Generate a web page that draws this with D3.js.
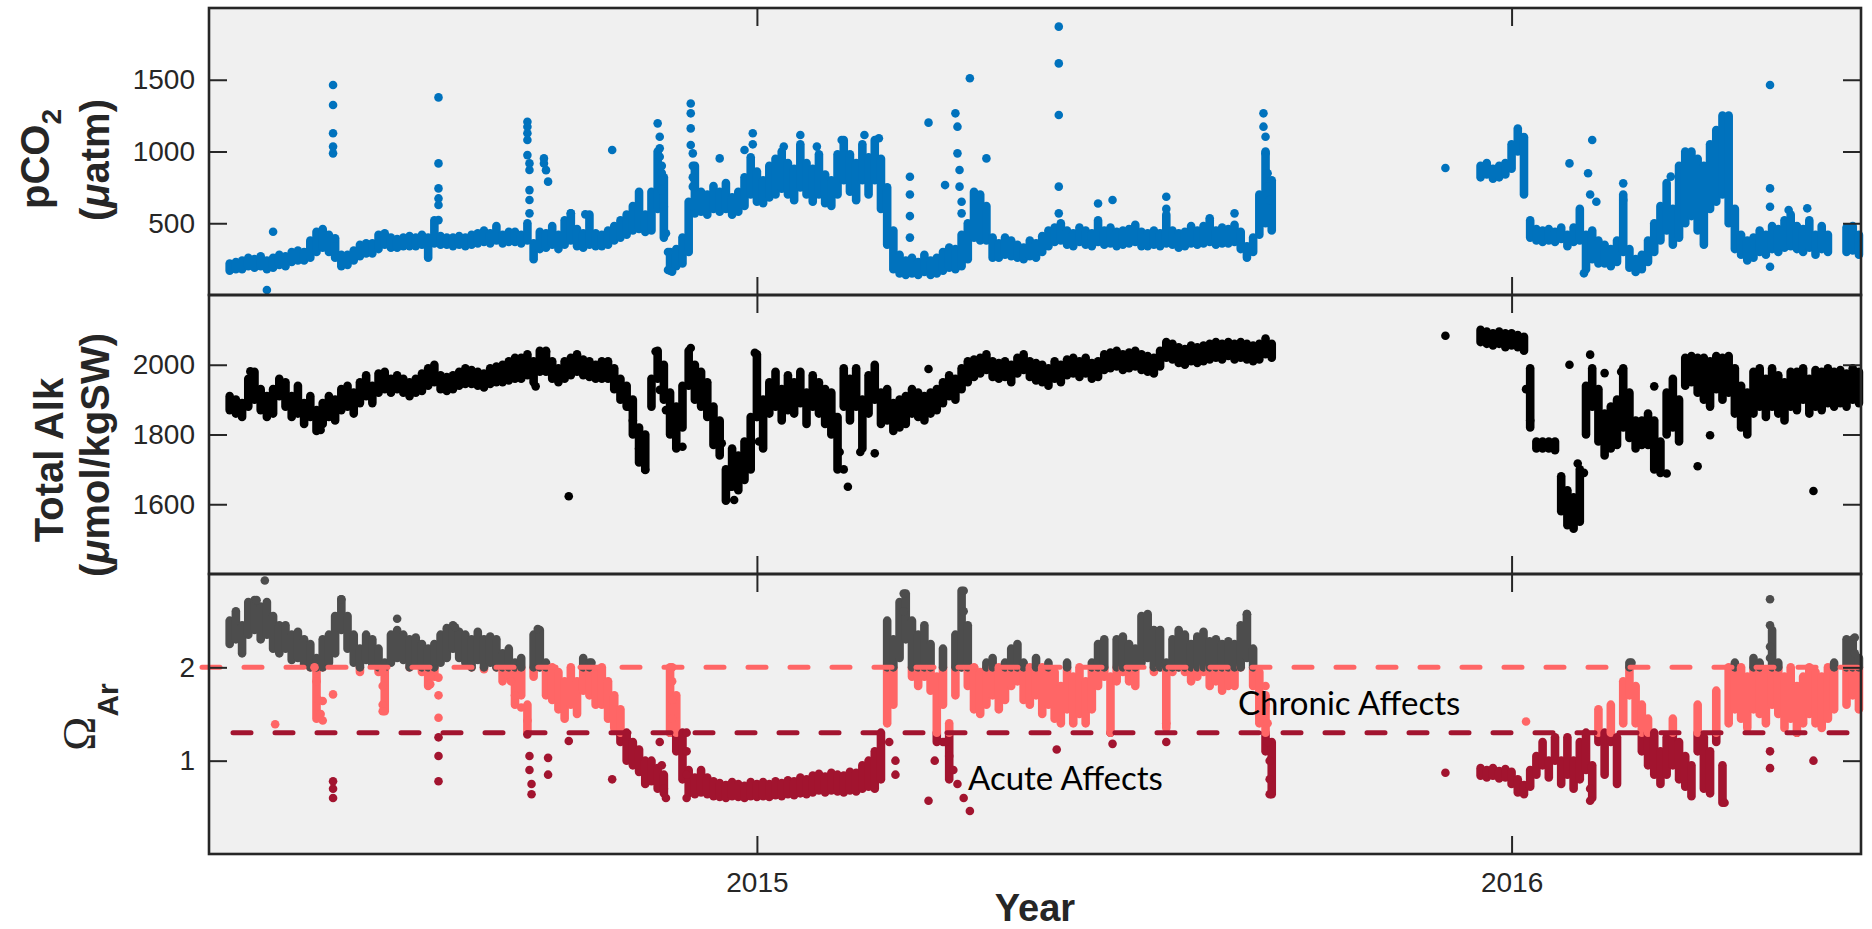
<!DOCTYPE html>
<html lang="en">
<head>
<meta charset="UTF-8">
<title>pCO2, Total Alkalinity and Aragonite Saturation</title>
<script src="https://d3js.org/d3.v7.min.js"></script>
<style>
  body { margin: 0; background: #fff; }
  svg { display: block; font-family: "Liberation Sans", Arial, Helvetica, sans-serif; }
  .ylab { font-size: 40px; font-weight: bold; fill: #262626; }
  .note { font-family: Lato, "Open Sans", sans-serif; font-size: 33px; fill: #000; }
</style>
</head>
<body>
<svg width="1872" height="929"></svg>
<script>
// readings summarised every 3 days as [low, high], day numbers counted from 1 Jan 2015
const stepDays = 3;
const seg1Start = -255;
const seg2Start = 350;

const pco2Seg1 = [
  [170,220],[180,230],[180,240],[200,260],[190,250],[200,270],[180,240],[190,260],[210,280],[200,270],
  [230,300],[240,310],[240,300],[260,380],[300,440],[330,460],[300,420],[260,380],[200,280],[210,280],
  [240,310],[270,350],[290,360],[290,360],[320,420],[350,430],[330,400],[330,390],[340,400],[340,410],
  [340,400],[350,420],[260,400],[360,520],[350,410],[350,400],[340,400],[350,410],[340,400],[350,420],
  [360,430],[370,450],[360,430],[380,480],[360,420],[370,440],[370,440],[360,420],[380,500],[250,360],
  [320,440],[330,430],[350,480],[320,420],[350,520],[380,570],[340,460],[330,430],[350,560],[340,430],
  [340,420],[350,450],[380,480],[400,520],[420,560],[450,620],[460,720],[440,560],[450,720],[600,1000],
  [400,820],[170,300],[200,320],[220,400],[300,650],[600,900],[580,720],[560,700],[600,760],[580,720],
  [600,780],[560,680],[580,720],[620,820],[700,960],[650,860],[640,800],[680,900],[700,950],[740,1000],
  [700,920],[660,880],[750,1050],[700,920],[650,880],[700,980],[640,840],[620,800],[700,980],[800,1080],
  [720,980],[660,920],[800,1050],[700,960],[800,1080],[600,950],[350,750],[180,450],[150,280],[140,240],
  [150,260],[140,230],[160,280],[140,240],[150,260],[170,300],[190,330],[180,320],[200,420],[250,500],
  [400,720],[380,700],[380,620],[260,400],[260,360],[280,400],[270,380],[260,350],[250,330],[270,380],
  [260,360],[300,410],[340,450],[370,470],[380,500],[350,450],[340,430],[370,470],[350,450],[340,430],
  [370,520],[350,450],[360,470],[340,440],[350,450],[360,460],[370,490],[340,440],[340,430],[350,450],
  [340,430],[360,560],[350,450],[330,430],[340,440],[360,480],[350,450],[360,480],[370,520],[350,450],
  [360,470],[360,460],[370,490],[320,440],[260,340],[300,400],[420,700],[500,1000],[450,800]
];
const pco2Seg2 = [
  [820,900],[840,920],[810,880],[820,900],[840,920],[880,1050],[1000,1160],[700,1100],[400,520],[380,460],
  [370,450],[380,460],[370,440],[390,470],[340,420],[370,470],[380,600],[180,420],[250,450],[220,380],
  [220,350],[200,320],[230,380],[300,700],[190,320],[160,250],[180,280],[230,380],[300,500],[380,620],
  [450,780],[350,600],[400,900],[500,1000],[550,1000],[450,950],[350,900],[600,1050],[650,1150],[700,1250],
  [500,1250],[320,600],[280,420],[240,380],[260,400],[300,450],[280,420],[320,480],[300,460],[330,520],
  [340,560],[320,480],[300,460],[330,520],[280,420],[320,480],[300,420],null,null,[300,470],
  [310,480],[280,420]
];
const pco2Extra = [
  [-237, 35], [-234, 441],
  [-205, 1463], [-205, 1324], [-205, 1127], [-205, 1034], [-205, 987], [-204, 395],
  [-154, 1377], [-154, 917], [-154, 743], [-154, 673], [-154, 627], [-154, 522],
  [-111, 1207], [-111, 1173], [-111, 1127], [-111, 1080], [-111, 975], [-110, 917], [-110, 871], [-110, 731], [-110, 662], [-110, 569],
  [-103, 952], [-103, 917], [-102, 870], [-101, 790],
  [-90, 569], [-83, 562], [-70, 1010],
  [-48, 1196], [-47, 1103], [-47, 1022], [-47, 964], [-46, 900], [-46, 850], [-46, 800], [-46, 731], [-45, 615], [-44, 430], [-43, 300], [-43, 174], [-41, 163],
  [-32, 1335], [-32, 1266], [-32, 1161], [-32, 1045], [-31, 987], [-31, 900], [-31, 820], [-31, 755], [-30, 569],
  [-18, 952], [-6, 1010], [-2, 1127], [-2, 1050],
  [13, 1034], [21, 1115], [29, 1034], [41, 1080], [52, 1115], [59, 1092],
  [74, 824], [74, 700], [74, 550], [74, 400],
  [83, 1201], [91, 766],
  [96, 1266], [97, 1173], [97, 987], [98, 871], [98, 755], [99, 650], [99, 569],
  [103, 1510], [111, 952],
  [146, 1870], [146, 1614], [146, 1254], [146, 755], [146, 569],
  [165, 638], [172, 662], [198, 685], [198, 600], [219, 534], [231, 569],
  [245, 1266], [245, 1173], [246, 1103], [246, 987], [247, 848], [247, 755], [248, 662],
  [333, 885],
  [393, 917], [402, 848], [404, 1080], [403, 700], [406, 650], [400, 151],
  [419, 778], [419, 662], [442, 825],
  [490, 1463], [490, 743], [490, 615], [490, 197],
  [499, 592], [508, 604]
];

const alkSeg1 = [
  [1870,1910],[1860,1900],[1850,1890],[1880,1960],[1900,1980],[1870,1930],[1850,1910],[1860,1930],[1910,1960],[1880,1950],
  [1850,1910],[1860,1940],[1830,1890],[1850,1910],[1810,1870],[1830,1890],[1850,1910],[1840,1900],[1870,1930],[1880,1940],
  [1860,1920],[1890,1950],[1910,1970],[1890,1940],[1920,1975],[1930,1980],[1920,1960],[1930,1970],[1920,1960],[1910,1950],
  [1920,1960],[1925,1975],[1940,1990],[1950,2000],[1930,1970],[1925,1965],[1930,1970],[1940,1980],[1945,1990],[1945,1985],
  [1940,1980],[1935,1975],[1945,1990],[1950,1995],[1950,2000],[1955,2010],[1960,2020],[1960,2020],[1970,2030],[1950,2010],
  [1980,2040],[1980,2040],[1960,2010],[1950,1990],[1960,2010],[1970,2020],[1980,2030],[1970,2015],[1965,2010],[1960,2000],
  [1960,2010],[1960,2010],[1930,1990],[1900,1960],[1880,1940],[1800,1900],[1720,1820],[1700,1800],[1880,1960],[1960,2040],
  [1900,2000],[1800,1920],[1760,1880],[1820,1940],[1940,2040],[1900,2000],[1880,1980],[1850,1950],[1770,1880],[1740,1840],
  [1610,1700],[1650,1760],[1640,1740],[1670,1780],[1700,1850],[1850,2030],[1760,1900],[1860,1950],[1880,1980],[1840,1930],
  [1870,1970],[1860,1950],[1890,1980],[1830,1920],[1880,1970],[1860,1950],[1830,1930],[1800,1920],[1700,1850],[1880,1990],
  [1840,1960],[1880,1990],[1760,1900],[1860,1970],[1900,2000],[1830,1920],[1840,1930],[1810,1890],[1820,1900],[1830,1910],
  [1860,1930],[1850,1920],[1840,1910],[1860,1920],[1870,1930],[1890,1950],[1910,1970],[1900,1960],[1930,1990],[1950,2010],
  [1965,2015],[1975,2020],[1985,2030],[1965,2010],[1960,2005],[1965,2010],[1950,2000],[1975,2020],[1985,2030],[1965,2010],
  [1955,2005],[1950,2000],[1940,1990],[1960,2010],[1950,2000],[1970,2015],[1975,2020],[1965,2010],[1975,2020],[1960,2005],
  [1965,2010],[1985,2030],[1990,2035],[1995,2040],[1985,2030],[1990,2035],[1995,2040],[1985,2030],[1980,2025],[1975,2020],
  [1995,2040],[2020,2065],[2015,2060],[2005,2050],[2000,2045],[2010,2055],[2005,2050],[2010,2055],[2015,2060],[2020,2065],
  [2015,2060],[2025,2065],[2015,2060],[2020,2065],[2015,2060],[2010,2055],[2015,2060],[2030,2075],[2020,2060]
];
const alkSeg2 = [
  [2065,2100],[2060,2095],[2055,2090],[2060,2095],[2050,2090],[2055,2090],[2050,2085],[2040,2080],[1820,1990],[1760,1780],
  [1760,1780],[1760,1780],[1755,1780],[1580,1680],[1540,1640],[1530,1620],[1550,1700],[1800,1940],[1880,1990],[1780,1930],
  [1740,1860],[1760,1880],[1770,1900],[1820,1990],[1790,1920],[1760,1840],[1770,1840],[1770,1860],[1700,1840],[1690,1780],
  [1800,1920],[1820,1960],[1780,1900],[1940,2020],[1950,2025],[1920,2020],[1900,2020],[1880,2010],[1930,2025],[1900,2020],
  [1920,2025],[1860,1990],[1820,1940],[1800,1920],[1860,1980],[1880,1990],[1850,1960],[1880,1990],[1860,1970],[1840,1950],
  [1880,1980],[1870,1980],[1900,1990],[1860,1960],[1880,1985],[1870,1980],[1890,1990],[1880,1980],[1890,1985],[1880,1975],
  [1900,1990],[1890,1980]
];
const alkExtra = [
  [-245, 1981], [-211, 1813], [-107, 1938], [-102, 2038], [-91, 1623],
  [-62, 1880], [-60, 1840], [-58, 1800], [-57, 1760], [-55, 1720], [-54, 1698],
  [-49, 2038], [-47, 1928], [-44, 1870], [-40, 1800], [-36, 1765],
  [-32, 2048], [-32, 2000],
  [-17, 1775], [-13, 1650], [-11, 1612], [-7, 1680],
  [-1, 2034], [0, 1850], [1, 1780],
  [38, 1850], [40, 1750], [42, 1700], [44, 1650],
  [50, 1750], [57, 1746],
  [83, 1988],
  [333, 2083],
  [372, 1930], [374, 1840],
  [393, 2000], [397, 1717], [400, 1690],
  [403, 2029], [410, 1976],
  [418, 1980], [425, 1820],
  [434, 1938], [440, 1688],
  [455, 1709], [461, 1798], [511, 1638]
];

const omegaSeg1 = [
  [2.25,2.50],[2.30,2.60],[2.15,2.45],[2.35,2.70],[2.40,2.72],[2.30,2.65],[2.35,2.70],[2.20,2.55],[2.15,2.45],[2.20,2.45],
  [2.08,2.35],[2.10,2.38],[2.03,2.30],[2.00,2.25],[1.45,2.10],[2.00,2.30],[2.05,2.35],[2.15,2.55],[2.40,2.73],[2.20,2.55],
  [2.05,2.35],[1.95,2.20],[2.08,2.35],[2.03,2.30],[1.95,2.20],[1.53,2.05],[2.05,2.35],[2.10,2.40],[2.08,2.35],[2.00,2.30],
  [2.05,2.32],[1.95,2.25],[1.80,2.20],[1.90,2.25],[2.05,2.35],[2.10,2.42],[2.20,2.45],[2.10,2.38],[2.05,2.35],[2.00,2.30],
  [2.08,2.38],[1.98,2.30],[2.05,2.33],[2.00,2.30],[1.85,2.15],[1.90,2.20],[1.60,2.05],[1.70,2.10],[1.30,1.60],[1.90,2.35],
  [2.00,2.40],[1.70,2.05],[1.65,2.00],[1.55,1.95],[1.45,1.85],[1.60,2.00],[1.50,1.85],[1.75,2.10],[1.70,2.05],[1.60,1.95],
  [1.60,2.00],[1.45,1.85],[1.35,1.70],[1.20,1.55],[1.00,1.30],[0.95,1.20],[0.88,1.12],[0.75,1.00],[0.78,1.00],[0.70,0.92],
  [0.65,0.85],[1.30,2.00],[1.10,1.70],[0.80,1.30],[0.65,0.90],[0.64,0.82],[0.66,0.90],[0.64,0.82],[0.62,0.78],[0.61,0.76],
  [0.60,0.74],[0.62,0.77],[0.61,0.75],[0.60,0.73],[0.62,0.77],[0.61,0.75],[0.62,0.77],[0.61,0.75],[0.63,0.78],[0.62,0.76],
  [0.64,0.79],[0.63,0.78],[0.65,0.82],[0.64,0.80],[0.66,0.84],[0.68,0.86],[0.66,0.83],[0.68,0.87],[0.67,0.85],[0.66,0.84],
  [0.68,0.88],[0.67,0.87],[0.70,0.95],[0.72,1.00],[0.70,1.10],[0.80,1.30],[1.40,2.50],[1.60,2.30],[2.10,2.70],[2.30,2.79],
  [1.90,2.50],[1.80,2.35],[1.90,2.45],[1.75,2.25],[1.20,1.90],[1.60,2.20],[0.80,1.40],[1.70,2.35],[2.00,2.82],[1.80,2.45],
  [1.55,2.00],[1.50,1.95],[1.60,2.05],[1.70,2.10],[1.55,2.00],[1.65,2.05],[1.80,2.20],[1.85,2.25],[1.65,2.05],[1.60,2.00],
  [1.70,2.10],[1.50,2.00],[1.60,2.05],[1.45,1.95],[1.40,1.80],[1.55,2.05],[1.40,1.90],[1.50,2.00],[1.40,1.85],[1.55,2.05],
  [1.80,2.25],[1.90,2.30],[1.30,1.90],[1.85,2.30],[1.95,2.33],[1.85,2.25],[1.80,2.20],[2.05,2.55],[2.10,2.57],[1.95,2.40],
  [2.00,2.40],[1.35,2.05],[1.95,2.30],[2.00,2.40],[1.95,2.35],[1.85,2.25],[1.90,2.33],[1.95,2.38],[1.80,2.28],[1.85,2.30],
  [1.75,2.25],[1.80,2.28],[1.80,2.25],[2.00,2.45],[2.10,2.57],[1.80,2.20],[1.40,1.95],[1.10,1.70],[0.64,1.20]
];
const omegaSeg2 = [
  [0.84,0.92],[0.82,0.90],[0.84,0.92],[0.81,0.89],[0.82,0.91],[0.75,0.88],[0.66,0.80],[0.64,0.74],[0.72,0.90],[0.85,1.05],
  [0.95,1.20],[0.82,1.00],[1.00,1.25],[0.75,1.00],[0.85,1.25],[0.70,1.00],[0.80,1.20],[0.90,1.30],[0.60,0.95],[1.20,1.55],
  [0.85,1.30],[1.20,1.60],[0.75,1.25],[1.40,1.85],[1.70,2.05],[1.40,1.80],[1.10,1.60],[0.95,1.45],[0.85,1.30],[0.75,1.10],
  [0.85,1.25],[0.95,1.45],[0.80,1.20],[0.72,1.05],[0.62,0.95],[1.10,1.60],[0.70,1.25],[0.65,1.10],[1.20,1.75],[0.55,0.95],
  [1.40,2.00],[1.55,2.05],[1.45,2.00],[1.35,1.90],[1.55,2.10],[1.50,2.05],[1.40,1.95],[1.60,2.40],[1.50,2.05],[1.35,1.90],
  [1.45,2.00],[1.30,1.80],[1.40,1.90],[1.50,2.00],[1.40,1.95],[1.35,1.90],[1.45,2.00],[1.55,2.05],null,[1.60,2.30],
  [1.70,2.30],[1.55,2.10]
];
const omegaExtra = [
  [-242, 2.72], [-238, 2.93],
  [-214, 2.00], [-213, 1.85], [-212, 1.65], [-211, 1.50], [-210, 1.43], [-210, 1.64], [-205, 1.71], [-233, 1.39],
  [-205, 0.78], [-205, 0.70], [-205, 0.60],
  [-201, 2.73],
  [-181, 1.95], [-181, 1.80], [-181, 1.60], [-181, 1.53],
  [-174, 2.52],
  [-158, 1.90], [-158, 1.82],
  [-154, 1.89], [-154, 1.70], [-154, 1.46], [-154, 1.25], [-154, 1.05], [-154, 0.78],
  [-146, 2.43],
  [-119, 1.85], [-117, 1.70], [-114, 1.57],
  [-111, 1.43], [-111, 1.28], [-110, 1.05], [-110, 0.90], [-109, 0.75], [-109, 0.64],
  [-106, 2.41], [-101, 1.03], [-101, 0.85], [-91, 1.21], [-80, 2.05],
  [-70, 0.80],
  [-47, 1.20], [-46, 0.95], [-45, 0.70], [-44, 0.60],
  [-41, 2.00], [-41, 1.85], [-41, 1.65], [-41, 1.45],
  [-34, 1.30], [-34, 1.10], [-34, 0.85], [-34, 0.60],
  [64, 1.20], [67, 1.00], [67, 0.85],
  [71, 2.79], [71, 2.60],
  [83, 0.57], [90, 1.20], [86, 1.00],
  [91, 1.20], [93, 1.05], [95, 0.90], [97, 0.75], [100, 0.60], [103, 0.46],
  [100, 2.82], [100, 2.60],
  [145, 1.12], [172, 1.18], [198, 1.40], [198, 1.20],
  [237, 2.57],
  [246, 1.80], [246, 1.60], [247, 1.40], [247, 1.20], [248, 1.00], [248, 0.80], [248, 0.64],
  [333, 0.87],
  [372, 1.42], [403, 0.57], [403, 0.70],
  [423, 2.05],
  [468, 0.55],
  [490, 2.73], [490, 2.45], [490, 2.22], [490, 2.10], [490, 1.10], [490, 0.92],
  [511, 1.00],
  [531, 2.32], [531, 2.15]
];

const pco2Ticks = [500, 1000, 1500];
const alkTicks = [1600, 1800, 2000];
const omegaTicks = [1, 2];
const yearTicks = [new Date(2015, 0, 1), new Date(2016, 0, 1)];
const chronicLevel = 2;
const acuteLevel = 1.3;

const dayZero = new Date(2015, 0, 1);
const dotR = 4.3;

function gridRanges(start, pairs) {
  return pairs
    .map((p, i) => p && { date: d3.timeDay.offset(dayZero, start + i * stepDays), lo: p[0], hi: p[1] })
    .filter(Boolean);
}
function extraPoints(list) {
  return list.map(([day, value]) => ({ date: d3.timeDay.offset(dayZero, day), value }));
}

const svg = d3.select("svg");
const left = 209, right = 1861;
const tickLen = 18;

const x = d3.scaleTime()
  .domain([new Date(2014, 3, 11), new Date(2016, 5, 18)])
  .range([left, right]);

const omegaBands = [
  { lo: -Infinity, hi: acuteLevel, color: "#a2142f" },
  { lo: acuteLevel, hi: chronicLevel, color: "#ff6666" },
  { lo: chronicLevel, hi: Infinity, color: "#4d4d4d" }
];
const omegaColor = v => omegaBands.find(b => v <= b.hi).color;

const panels = [
  { top: 8, bottom: 295, domain: [0, 2000], ticks: pco2Ticks,
    ranges: [...gridRanges(seg1Start, pco2Seg1), ...gridRanges(seg2Start, pco2Seg2)],
    points: extraPoints(pco2Extra), bands: [{ lo: -Infinity, hi: Infinity, color: "#0072bd" }] },
  { top: 295, bottom: 574, domain: [1400, 2200], ticks: alkTicks,
    ranges: [...gridRanges(seg1Start, alkSeg1), ...gridRanges(seg2Start, alkSeg2)],
    points: extraPoints(alkExtra), bands: [{ lo: -Infinity, hi: Infinity, color: "#000000" }] },
  { top: 574, bottom: 854, domain: [0, 3], ticks: omegaTicks,
    ranges: [...gridRanges(seg1Start, omegaSeg1), ...gridRanges(seg2Start, omegaSeg2)],
    points: extraPoints(omegaExtra), bands: omegaBands }
];

panels.forEach(p => {
  p.y = d3.scaleLinear().domain(p.domain).range([p.bottom, p.top]);
  svg.append("rect")
    .attr("x", left).attr("y", p.top)
    .attr("width", right - left).attr("height", p.bottom - p.top)
    .attr("fill", "#f0f0f0");
});

panels.forEach(p => {
  // each 3-day range is drawn as a run of overlapping markers, split by colour band
  const pieces = p.ranges.flatMap(r => p.bands
    .filter(b => r.hi > b.lo && r.lo <= b.hi)
    .map(b => ({ date: r.date, lo: Math.max(r.lo, b.lo), hi: Math.min(r.hi, b.hi), color: b.color })));
  svg.append("g").selectAll("line")
    .data(pieces)
    .join("line")
    .attr("x1", d => x(d.date)).attr("x2", d => x(d.date))
    .attr("y1", d => p.y(d.lo)).attr("y2", d => p.y(d.hi))
    .attr("stroke", d => d.color)
    .attr("stroke-width", dotR * 2)
    .attr("stroke-linecap", "round");
  svg.append("g").selectAll("circle")
    .data(p.points)
    .join("circle")
    .attr("cx", d => x(d.date))
    .attr("cy", d => p.y(d.value))
    .attr("r", dotR)
    .attr("fill", d => p.bands.find(b => d.value <= b.hi).color);
});

// threshold lines in the omega panel
const om = panels[2];
svg.append("line")
  .attr("x1", 202).attr("x2", right)
  .attr("y1", om.y(chronicLevel)).attr("y2", om.y(chronicLevel))
  .attr("stroke", "#ff6666").attr("stroke-width", 5)
  .attr("stroke-linecap", "round").attr("stroke-dasharray", "18 24");
svg.append("line")
  .attr("x1", 233).attr("x2", right)
  .attr("y1", om.y(acuteLevel)).attr("y2", om.y(acuteLevel))
  .attr("stroke", "#a2142f").attr("stroke-width", 5)
  .attr("stroke-linecap", "round").attr("stroke-dasharray", "18 24");

function styleAxis(g) {
  g.select(".domain").remove();
  g.selectAll(".tick line").attr("stroke", "#262626").attr("stroke-width", 2);
  g.selectAll("text").attr("fill", "#262626");
  g.attr("font-size", 28).attr("font-family", "Liberation Sans, Arial, sans-serif");
}

panels.forEach((p, i) => {
  svg.append("g").attr("transform", `translate(${left},0)`)
    .call(d3.axisLeft(p.y).tickValues(p.ticks).tickSize(-tickLen).tickPadding(14).tickFormat(d3.format("d")))
    .call(styleAxis);
  svg.append("g").attr("transform", `translate(${right},0)`)
    .call(d3.axisRight(p.y).tickValues(p.ticks).tickSize(-tickLen).tickFormat(""))
    .call(styleAxis);
  svg.append("g").attr("transform", `translate(0,${p.top})`)
    .call(d3.axisTop(x).tickValues(yearTicks).tickSize(-tickLen).tickFormat(""))
    .call(styleAxis);
  svg.append("g").attr("transform", `translate(0,${p.bottom})`)
    .call(d3.axisBottom(x).tickValues(yearTicks).tickSize(-tickLen).tickPadding(18)
      .tickFormat(i === 2 ? d3.timeFormat("%Y") : ""))
    .call(styleAxis);
  svg.append("rect")
    .attr("x", left).attr("y", p.top)
    .attr("width", right - left).attr("height", p.bottom - p.top)
    .attr("fill", "none").attr("stroke", "#262626").attr("stroke-width", 2.6);
});

// axis titles
const t1 = svg.append("text").attr("class", "ylab").attr("text-anchor", "middle")
  .attr("transform", "translate(49,159) rotate(-90)");
t1.append("tspan").text("pCO");
t1.append("tspan").attr("font-size", 28).attr("dy", 12).text("2");

const t2 = svg.append("text").attr("class", "ylab").attr("text-anchor", "middle")
  .attr("transform", "translate(109,160) rotate(-90)");
t2.append("tspan").text("(");
t2.append("tspan").attr("font-style", "italic").text("μ");
t2.append("tspan").text("atm)");

svg.append("text").attr("class", "ylab").attr("text-anchor", "middle")
  .attr("transform", "translate(63,460) rotate(-90)")
  .text("Total Alk");

const t4 = svg.append("text").attr("class", "ylab").attr("text-anchor", "middle")
  .attr("transform", "translate(109,455) rotate(-90)");
t4.append("tspan").text("(");
t4.append("tspan").attr("font-style", "italic").text("μ");
t4.append("tspan").text("mol/kgSW)");

const t5 = svg.append("text").attr("text-anchor", "middle").attr("fill", "#262626")
  .attr("transform", "translate(95,717) rotate(-90)");
t5.append("tspan").attr("font-family", "Liberation Serif, Times New Roman, serif")
  .attr("font-size", 46).text("Ω");
t5.append("tspan").attr("font-weight", "bold").attr("font-size", 30).attr("dy", 23).text("Ar");

svg.append("text")
  .attr("x", (left + right) / 2).attr("y", 921)
  .attr("text-anchor", "middle")
  .attr("font-size", 38).attr("font-weight", "bold").attr("fill", "#262626")
  .text("Year");

svg.append("text").attr("class", "note").attr("x", 1238).attr("y", 715).text("Chronic Affects");
svg.append("text").attr("class", "note").attr("x", 968).attr("y", 790).text("Acute Affects");
</script>
</body>
</html>
